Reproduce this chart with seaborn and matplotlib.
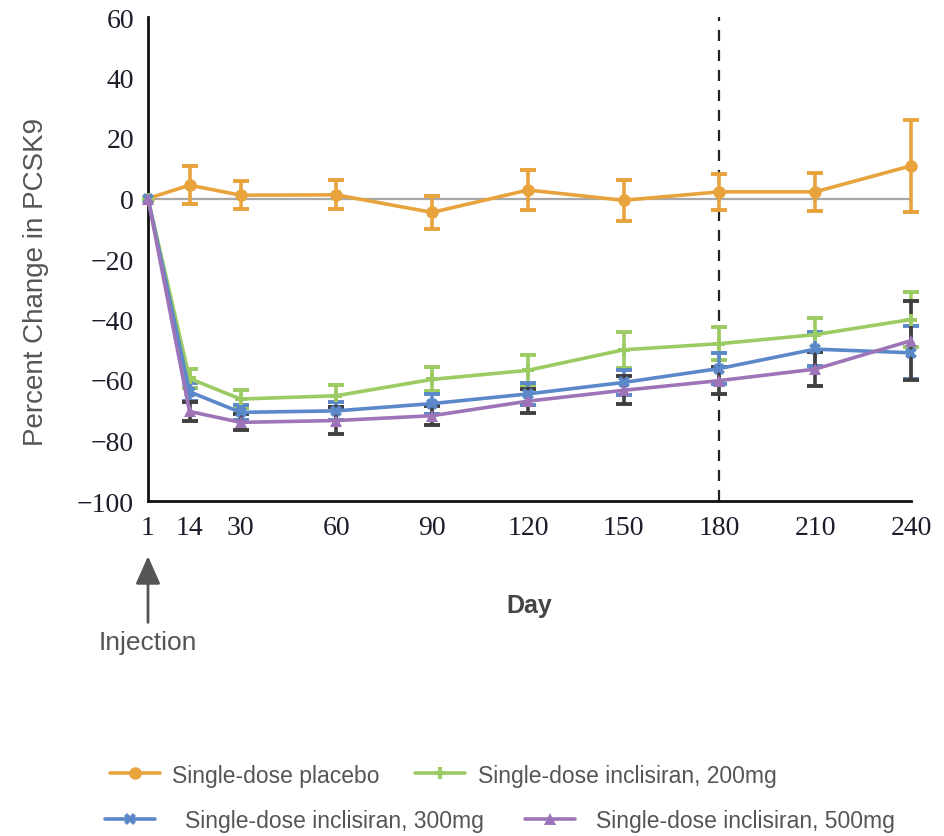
import matplotlib
matplotlib.use("Agg")
import matplotlib.pyplot as plt
import seaborn as sns
import pandas as pd

days = [1, 14, 30, 60, 90, 120, 150, 180, 210, 240]
tick_labels = ["1", "14", "30", "60", "90", "120", "150", "180", "210", "240"]

groups = ["Single-dose placebo", "Single-dose inclisiran, 200mg",
          "Single-dose inclisiran, 300mg", "Single-dose inclisiran, 500mg"]

placebo = [0, 4.4, 1.1, 1.2, -4.6, 2.8, -0.6, 2.2, 2.2, 10.8]
placebo_err = [0, 6.2, 4.6, 4.8, 5.4, 6.6, 6.8, 6.0, 6.3, 15.2]
d200 = [0, -59.5, -66.3, -65.2, -59.8, -56.8, -50.0, -48.0, -45.0, -40.0]
d200_err = [0, 3.0, 3.0, 3.6, 4.0, 5.0, 6.0, 5.5, 5.6, 9.0]
d300 = [0, -63.9, -70.7, -70.2, -67.8, -64.6, -60.8, -56.2, -49.8, -51.0]
d300_err = [0, 3.0, 2.5, 3.0, 3.3, 3.5, 4.0, 5.0, 5.6, 8.8]
d500 = [0, -70.4, -74.0, -73.4, -71.8, -67.0, -63.4, -60.2, -56.4, -47.0]
d500_err = [0, 3.0, 2.6, 4.6, 3.2, 4.0, 4.6, 4.4, 5.7, 13.0]

values = [placebo, d200, d300, d500]
errors = [placebo_err, d200_err, d300_err, d500_err]
colors = ["#E8A33D", "#9BCB62", "#5B88C8", "#9E74B8"]
err_colors = ["#E8A33D", "#9BCB62", "#5B88C8", "#404040"]
markers = ["o", "P", "X", "^"]

rows = []
for g, vals in zip(groups, values):
    for d, v in zip(days, vals):
        rows.append({"Day": d, "Value": v, "Group": g})
df = pd.DataFrame(rows)

sns.set_style("white")
plt.rcParams["font.family"] = ["Liberation Sans", "DejaVu Sans"]

fig = plt.figure(figsize=(9.45, 8.37), dpi=100)
ax = fig.add_axes([148 / 945, 1 - 502 / 837, (911 - 148) / 945, (502 - 18) / 837])

ax.axhline(0, color="#A8A8A8", lw=1.6, zorder=1)
ax.axvline(180, color="#222222", lw=1.6, ls=(0, (5, 4)), zorder=1)

for g, vals, errs, ec in zip(groups, values, errors, err_colors):
    cont = ax.errorbar(days[1:], vals[1:], yerr=errs[1:], fmt="none", ecolor=ec,
                       elinewidth=2.6, capsize=6, capthick=2.8, zorder=2)
    for art in cont.get_children():
        art.set_clip_on(False)

sns.lineplot(data=df, x="Day", y="Value", hue="Group", style="Group",
             palette=dict(zip(groups, colors)),
             markers=dict(zip(groups, markers)),
             dashes=False, linewidth=2.6, markersize=9, markeredgewidth=0,
             ax=ax, legend=False, zorder=3)
for ln in ax.get_lines():
    ln.set_clip_on(False)

ax.set_xlim(1, 240)
ax.set_ylim(-100, 60)
ax.set_xticks(days)
ax.set_xticklabels(tick_labels)
ax.set_yticks([60, 40, 20, 0, -20, -40, -60, -80, -100])
ax.set_yticklabels(["60", "40", "20", "0", "\u221220", "\u221240", "\u221260", "\u221280", "\u2212100"])

for s in ["top", "right"]:
    ax.spines[s].set_visible(False)
for s in ["left", "bottom"]:
    ax.spines[s].set_color("#111111")
    ax.spines[s].set_linewidth(2.0)

ax.tick_params(axis="both", which="major", direction="out", length=7, width=2,
               color="#111111", labelsize=20, labelcolor="#1c1c2a", pad=3)
for lab in ax.get_xticklabels() + ax.get_yticklabels():
    lab.set_family(["Liberation Serif", "DejaVu Serif"])

ax.set_xlabel("Day", fontsize=18, fontweight="bold", color="#444444")
ax.xaxis.set_label_coords(0.5, -0.19)
ax.set_ylabel("Percent Change in PCSK9", fontsize=20, color="#555555")
ax.yaxis.set_label_coords(-0.13, 0.455)

ax.annotate("Injection", xy=(1, -0.114), xycoords=("data", "axes fraction"),
            xytext=(1, -0.291), textcoords=("data", "axes fraction"),
            ha="center", va="center", fontsize=19, color="#555555",
            arrowprops=dict(arrowstyle="-|>,head_length=0.9,head_width=0.4",
                            color="#555555", lw=2, shrinkA=3, shrinkB=0))

# legend: build handles from plotted lines
handles = {}
for ln in ax.get_lines():
    c = ln.get_color()
    for g, col in zip(groups, colors):
        if c == col and len(ln.get_xdata()) == len(days):
            handles[g] = ln
legend_pos = [(110, 776, 0.5), (415, 776, 0.55), (105, 822, 1.3), (525, 822, 0.9)]
for g, (px, py, pad) in zip(groups, legend_pos):
    h = handles.get(g)
    if h is None:
        continue
    leg = fig.legend([h], [g], loc="center left",
                     bbox_to_anchor=(px / 945, 1 - py / 837),
                     frameon=False, fontsize=16.5, handlelength=2.2,
                     handletextpad=pad, borderpad=0, borderaxespad=0)
    for t in leg.get_texts():
        t.set_color("#555555")

fig.savefig("out.png", dpi=100)
